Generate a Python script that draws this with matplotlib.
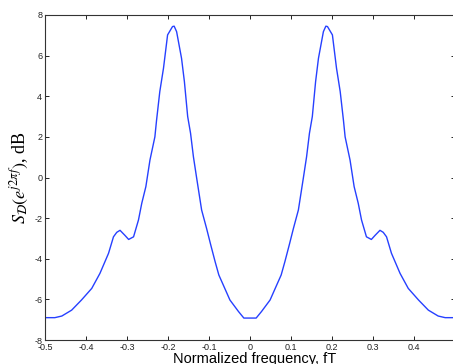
import matplotlib
matplotlib.use("Agg")
import matplotlib.pyplot as plt
import numpy as np

# values (normalized frequency, PSD in dB)
freq = [-0.5, -0.476, -0.459, -0.435, -0.411, -0.386, -0.366, -0.345, -0.333, -0.325,
        -0.317, -0.305, -0.296, -0.284, -0.272, -0.264, -0.254, -0.244, -0.232, -0.228,
        -0.220, -0.211, -0.206, -0.201, -0.189, -0.185, -0.179, -0.167, -0.160, -0.152,
        -0.145, -0.138, -0.130, -0.118, -0.106, -0.096, -0.085, -0.076, -0.065, -0.049,
        -0.028, -0.015,
        0.015, 0.028, 0.049, 0.065, 0.076, 0.085, 0.096, 0.106, 0.118, 0.130,
        0.138, 0.145, 0.152, 0.160, 0.167, 0.179, 0.185, 0.189, 0.201, 0.206,
        0.211, 0.220, 0.228, 0.232, 0.244, 0.254, 0.264, 0.272, 0.284, 0.296,
        0.305, 0.317, 0.325, 0.333, 0.345, 0.366, 0.386, 0.411, 0.435, 0.459,
        0.476, 0.5]
psd_db = [-6.9, -6.9, -6.82, -6.53, -6.03, -5.46, -4.72, -3.73, -2.92, -2.7,
          -2.6, -2.85, -3.05, -2.92, -2.09, -1.27, -0.45, 0.86, 2.0, 2.8,
          4.23, 5.38, 6.2, 7.02, 7.43, 7.45, 7.18, 5.87, 4.72, 3.0,
          2.18, 1.02, -0.04, -1.6, -2.5, -3.3, -4.15, -4.8, -5.3, -6.03,
          -6.6, -6.92,
          -6.92, -6.6, -6.03, -5.3, -4.8, -4.15, -3.3, -2.5, -1.6, -0.04,
          1.02, 2.18, 3.0, 4.72, 5.87, 7.18, 7.45, 7.43, 7.02, 6.2,
          5.38, 4.23, 2.8, 2.0, 0.86, -0.45, -1.27, -2.09, -2.92, -3.05,
          -2.85, -2.6, -2.7, -2.92, -3.73, -4.72, -5.46, -6.03, -6.53, -6.82,
          -6.9, -6.9]

xticks = [-0.5, -0.4, -0.3, -0.2, -0.1, 0, 0.1, 0.2, 0.3, 0.4, 0.5]
yticks = [-8, -6, -4, -2, 0, 2, 4, 6, 8]

plt.rcParams['font.family'] = ['Liberation Sans', 'DejaVu Sans']
plt.rcParams['mathtext.fontset'] = 'stix'

fig = plt.figure(figsize=(4.53, 3.64), dpi=100)
ax = fig.add_axes([45/453, 24/364, 410/453, 325/364])

ax.plot(freq, psd_db, color=(0.15, 0.25, 1.0), linewidth=1.0)

ax.set_xlim(-0.5, 0.5)
ax.set_ylim(-8, 8)
ax.set_xticks(xticks)
ax.set_xticklabels(['-0.5', '-0.4', '-0.3', '-0.2', '-0.1', '0', '0.1', '0.2', '0.3', '0.4', '0'])
ax.set_yticks(yticks)
ax.set_yticklabels([str(t) for t in yticks])
ax.tick_params(direction='in', length=3, width=0.7, top=True, right=True,
               labelsize=6.5, pad=2, colors='#222222')
for s in ax.spines.values():
    s.set_linewidth(0.8)
    s.set_color('#333333')

ax.set_xlabel('Normalized frequency, fT', fontsize=10.5)
ax.xaxis.label.set_va('baseline')
ax.xaxis.set_label_coords(0.512, -0.0708)

ax.set_ylabel(r'$S_{\mathcal{D}}\left(e^{j2\pi f}\right)$, dB', fontsize=13,
              family='Liberation Serif')
ax.yaxis.label.set_va('center')
ax.yaxis.set_label_coords(-0.06, 0.5)

fig.savefig('out.png', dpi=100)
